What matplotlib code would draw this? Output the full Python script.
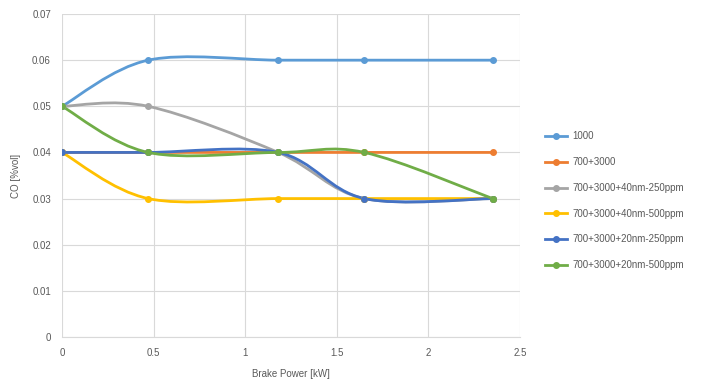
import numpy as np
import matplotlib.pyplot as plt
from matplotlib.path import Path
from matplotlib.patches import PathPatch
from matplotlib.lines import Line2D

plt.rcParams['font.family'] = ['Liberation Sans', 'DejaVu Sans']

# data
brake_power = [0, 0.47, 1.18, 1.65, 2.35]
co_1000 = [0.05, 0.06, 0.06, 0.06, 0.06]
co_700_3000 = [0.04, 0.04, 0.04, 0.04, 0.04]
co_40nm_250 = [0.05, 0.05, 0.04, 0.03, 0.03]
co_40nm_500 = [0.04, 0.03, 0.03, 0.03, 0.03]
co_20nm_250 = [0.04, 0.04, 0.04, 0.03, 0.03]
co_20nm_500 = [0.05, 0.04, 0.04, 0.04, 0.03]

labels = ['1000', '700+3000', '700+3000+40nm-250ppm', '700+3000+40nm-500ppm',
          '700+3000+20nm-250ppm', '700+3000+20nm-500ppm']
series = [co_1000, co_700_3000, co_40nm_250, co_40nm_500, co_20nm_250, co_20nm_500]
colors = ['#5B9BD5', '#ED7D31', '#A5A5A5', '#FFC000', '#4472C4', '#70AD47']


def smooth_path(x, y, t=1/6):
    # Excel-like smoothed line drawn as cubic bezier segments
    pts = np.column_stack([x, y]).astype(float)
    n = len(pts)
    verts = [pts[0]]
    codes = [Path.MOVETO]
    for i in range(n - 1):
        p0 = pts[i - 1] if i > 0 else pts[i]
        p1 = pts[i]
        p2 = pts[i + 1]
        p3 = pts[i + 2] if i + 2 < n else pts[i + 1]
        c1 = p1 + (p2 - p0) * t
        c2 = p2 - (p3 - p1) * t
        verts += [c1, c2, p2]
        codes += [Path.CURVE4] * 3
    return Path(verts, codes)


fig = plt.figure(figsize=(7.08, 3.9), dpi=100)
ax = fig.add_axes([0.0876, 0.136, 0.647, 0.828])

handles = []
for vals, c, lab in zip(series, colors, labels):
    ax.add_patch(PathPatch(smooth_path(brake_power, vals), facecolor='none',
                           edgecolor=c, linewidth=2, zorder=3))
    ax.plot(brake_power, vals, linestyle='none', marker='o', markersize=4,
            color=c, zorder=4)
    handles.append(Line2D([0], [0], color=c, linewidth=2, marker='o', markersize=4))

ax.set_xlim(0, 2.5)
ax.set_ylim(0, 0.07)
ax.set_xticks([0, 0.5, 1, 1.5, 2, 2.5])
ax.set_xticklabels(['0', '0.5', '1', '1.5', '2', '2.5'])
ax.set_yticks(np.arange(0, 0.071, 0.01))
ax.set_yticklabels(['0', '0.01', '0.02', '0.03', '0.04', '0.05', '0.06', '0.07'])
ax.grid(True, color='#D9D9D9', linewidth=0.8)
ax.set_axisbelow(True)
for s in ['top', 'right', 'left']:
    ax.spines[s].set_visible(False)
ax.spines['bottom'].set_color('#D9D9D9')
ax.tick_params(length=0, colors='#595959', labelsize=7, pad=8)
ax.set_xlabel('Brake Power [kW]', fontsize=7, color='#595959', labelpad=8)
ax.set_ylabel('CO [%vol]', fontsize=7, color='#595959', labelpad=8)

fig.legend(handles, labels, loc='center left', bbox_to_anchor=(0.758, 0.485),
           frameon=False, fontsize=7, labelcolor='#595959', handlelength=2.2,
           handletextpad=0.6, labelspacing=1.62)

fig.savefig('out.png', dpi=100)
